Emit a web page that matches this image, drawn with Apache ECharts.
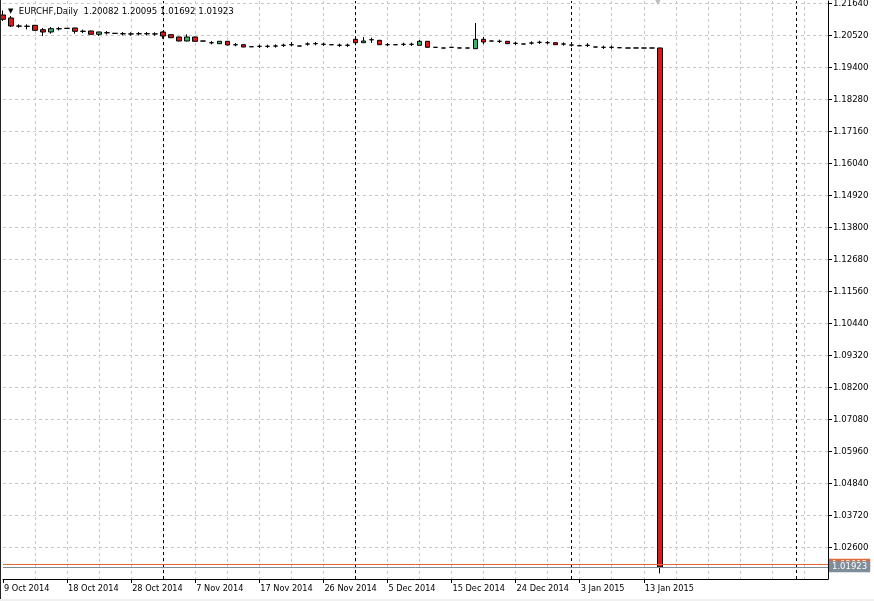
<!DOCTYPE html>
<html><head><meta charset="utf-8">
<script src="https://cdn.jsdelivr.net/npm/echarts@6/dist/echarts.min.js"></script>
<style>
html,body{margin:0;padding:0;background:#fff;overflow:hidden;}
#c{position:absolute;left:0;top:0;width:874px;height:601px;}
#lb{position:absolute;left:0;top:0;width:1px;height:601px;background:#222;}
#bb{position:absolute;left:0;top:599px;width:874px;height:2px;background:#f0f0f0;}
</style></head><body>
<div id="c"></div><div id="lb"></div><div id="bb"></div>
<script>
const symbolTitle = 'EURCHF,Daily';
const lastOHLC = [1.20082, 1.20095, 1.01692, 1.01923];
const askPrice = 1.02012;
const closePrice = 1.01923;
const tickLabels = ['9 Oct 2014','18 Oct 2014','28 Oct 2014','7 Nov 2014','17 Nov 2014','26 Nov 2014','5 Dec 2014','15 Dec 2014','24 Dec 2014','3 Jan 2015','13 Jan 2015'];
const yTicks = [1.21640,1.20520,1.19400,1.18280,1.17160,1.16040,1.14920,1.13800,1.12680,1.11560,1.10440,1.09320,1.08200,1.07080,1.05960,1.04840,1.03720,1.02600];
const separatorBars = [20, 44, 71, 99];
const slotCount = 104;

const opens = [1.21238,1.21133,1.20853,1.20845,1.20877,1.20723,1.20643,1.20758,1.20772,1.20783,
1.20670,1.20678,1.20562,1.20618,1.20597,1.20583,1.20575,1.20583,1.20580,1.20573,
1.20643,1.20548,1.20468,1.20328,1.20468,1.20328,1.20268,1.20233,1.20317,1.20198,
1.20198,1.20128,1.20142,1.20140,1.20153,1.20177,1.20198,1.20153,1.20223,1.20233,
1.20212,1.20198,1.20177,1.20180,1.20387,1.20268,1.20373,1.20352,1.20198,1.20198,
1.20212,1.20210,1.20177,1.20317,1.20107,1.20083,1.20107,1.20083,1.20083,1.20058,
1.20387,1.20328,1.20317,1.20317,1.20247,1.20223,1.20258,1.20282,1.20268,1.20268,
1.20223,1.20188,1.20163,1.20177,1.20118,1.20107,1.20105,1.20093,1.20083,1.20083,
1.20083,1.20082,1.20082];
const closes = [1.21087,1.20853,1.20848,1.20840,1.20702,1.20643,1.20758,1.20753,1.20768,1.20667,
1.20665,1.20562,1.20643,1.20613,1.20594,1.20580,1.20572,1.20580,1.20584,1.20576,
1.20503,1.20443,1.20328,1.20468,1.20317,1.20325,1.20265,1.20317,1.20188,1.20195,
1.20118,1.20125,1.20140,1.20143,1.20150,1.20175,1.20195,1.20150,1.20220,1.20236,
1.20215,1.20196,1.20180,1.20177,1.20268,1.20328,1.20370,1.20198,1.20200,1.20196,
1.20210,1.20213,1.20317,1.20107,1.20105,1.20081,1.20105,1.20085,1.20081,1.20387,
1.20293,1.20326,1.20315,1.20233,1.20245,1.20221,1.20255,1.20280,1.20270,1.20198,
1.20220,1.20185,1.20160,1.20175,1.20115,1.20105,1.20108,1.20091,1.20081,1.20084,
1.20081,1.20083,1.01923];
const lows = [1.21028,1.20818,1.20790,1.20737,1.20678,1.20503,1.20583,1.20695,1.20760,1.20583,
1.20605,1.20550,1.20503,1.20555,1.20590,1.20520,1.20515,1.20522,1.20522,1.20515,
1.20408,1.20430,1.20315,1.20315,1.20305,1.20318,1.20208,1.20225,1.20175,1.20138,
1.20108,1.20118,1.20082,1.20082,1.20092,1.20118,1.20140,1.20145,1.20162,1.20175,
1.20155,1.20190,1.20120,1.20120,1.20255,1.20260,1.20258,1.20188,1.20140,1.20190,
1.20152,1.20152,1.20168,1.20095,1.20098,1.20075,1.20095,1.20076,1.20075,1.20048,
1.20212,1.20318,1.20258,1.20222,1.20188,1.20215,1.20198,1.20222,1.20210,1.20190,
1.20162,1.20128,1.20155,1.20118,1.20110,1.20050,1.20050,1.20086,1.20076,1.20077,
1.20076,1.20076,1.01692];
const highs = [1.21395,1.21203,1.20912,1.20912,1.20888,1.20783,1.20818,1.20815,1.20780,1.20790,
1.20725,1.20690,1.20650,1.20675,1.20605,1.20640,1.20632,1.20640,1.20640,1.20632,
1.20667,1.20560,1.20480,1.20562,1.20480,1.20335,1.20325,1.20325,1.20325,1.20255,
1.20205,1.20135,1.20200,1.20200,1.20210,1.20235,1.20293,1.20160,1.20280,1.20292,
1.20272,1.20205,1.20238,1.20238,1.20395,1.20468,1.20443,1.20362,1.20258,1.20205,
1.20270,1.20270,1.20363,1.20328,1.20115,1.20090,1.20118,1.20092,1.20090,1.20958,
1.20468,1.20338,1.20375,1.20325,1.20305,1.20232,1.20315,1.20340,1.20328,1.20275,
1.20280,1.20245,1.20172,1.20250,1.20125,1.20165,1.20165,1.20100,1.20090,1.20090,
1.20090,1.20090,1.20095];

const FONT = 'DejaVu Sans';
const yMin = 1.014975, yMax = 1.217275;
const cats = Array.from({length: slotCount}, (_, i) => String(i));
const candles = opens.map((o, i) => [o, closes[i], lows[i], highs[i]]);
const labelIdx = i => i % 8 === 0 && i / 8 < tickLabels.length;

function priceLine(price, color) {
  return {
    type: 'line', data: [], silent: true, z: 3,
    markLine: {
      symbol: 'none', silent: true, animation: false, precision: 6,
      data: [{yAxis: price}],
      lineStyle: {color: color, type: 'solid', width: 1},
      label: {show: true, position: 'end', formatter: price.toFixed(5), backgroundColor: color,
        color: '#fff', padding: [1, 3], distance: 1, fontSize: 8.5, lineHeight: 9, fontFamily: FONT}
    }
  };
}

const chart = echarts.init(document.getElementById('c'), null, {renderer: 'canvas'});
chart.setOption({
  animation: false,
  backgroundColor: '#fff',
  title: {
    left: 3, top: 2,
    text: '{t|▼}  ' + symbolTitle + '  ' + lastOHLC.map(v => v.toFixed(5)).join(' '),
    textStyle: {fontSize: 8.6, fontFamily: FONT, color: '#000', fontWeight: 'normal',
      rich: {t: {fontSize: 7, color: '#000', fontFamily: FONT}}}
  },
  graphic: [{type: 'text', left: 654, top: -4, style: {text: '▼', fill: '#bdbdbd', fontSize: 10, fontFamily: FONT}}],
  grid: {left: 3, right: 46, top: 1, bottom: 22, show: false, outerBoundsMode: 'none'},
  xAxis: {
    type: 'category', data: cats, boundaryGap: false,
    axisLine: {show: true, lineStyle: {color: '#000', width: 1}},
    axisTick: {show: true, length: 4, interval: labelIdx, lineStyle: {color: '#000'}},
    axisLabel: {interval: labelIdx, formatter: (v, i) => tickLabels[i / 8] || '', align: 'left',
      margin: 6, padding: [0, 0, 0, 1], color: '#000', fontSize: 8.2, fontFamily: FONT},
    splitLine: {show: true, interval: i => i % 4 === 0 && i > 0,
      lineStyle: {color: '#c8c8c8', type: [3, 3], width: 1}}
  },
  yAxis: {
    type: 'value', position: 'right', min: yMin, max: yMax,
    axisLine: {show: true, lineStyle: {color: '#000', width: 1}},
    axisTick: {show: true, length: 4, customValues: yTicks, lineStyle: {color: '#000'}},
    axisLabel: {customValues: yTicks, formatter: v => v.toFixed(5), margin: 5, color: '#000',
      fontSize: 8.6, fontFamily: FONT},
    splitLine: {show: true, lineStyle: {color: '#c8c8c8', type: [3, 3], width: 1}}
  },
  series: [{
    type: 'candlestick',
    data: candles,
    barWidth: 5,
    clip: true,
    z: 4,
    itemStyle: {color: '#3cb371', color0: '#dc1818', borderColor: '#000', borderColor0: '#000',
      borderColorDoji: '#000', borderWidth: 1},
    markLine: {
      symbol: 'none', silent: true, animation: false,
      label: {show: false},
      data: separatorBars.map(b => ({xAxis: b})),
      lineStyle: {color: '#000', type: [3, 3], width: 1}
    }
  },
  priceLine(askPrice, '#e0683c'),
  priceLine(closePrice, '#7f8c99')
  ]
});
</script>
</body></html>
